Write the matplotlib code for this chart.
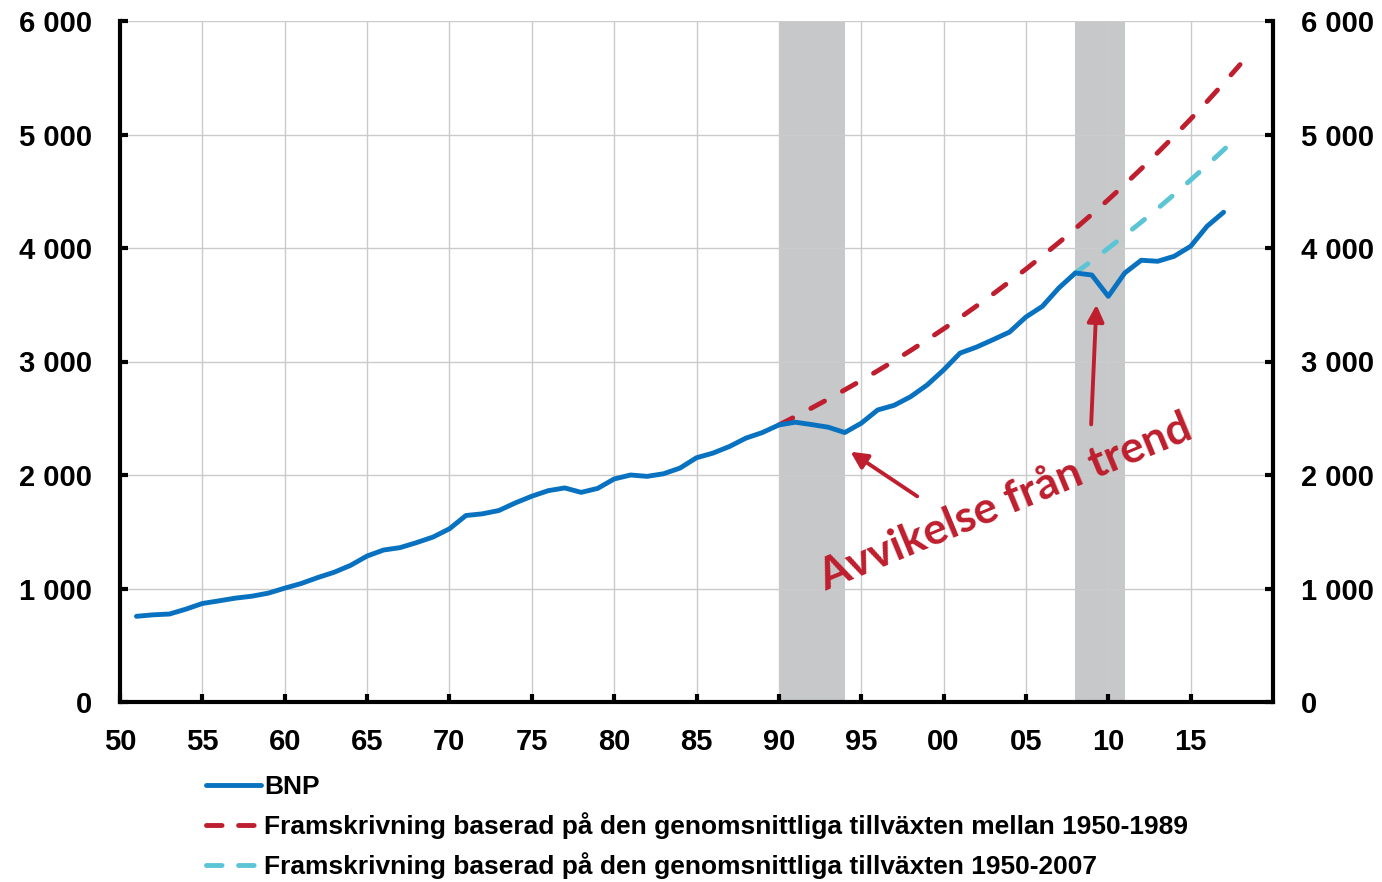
import matplotlib
matplotlib.use('Agg')
import matplotlib.pyplot as plt
from matplotlib.lines import Line2D

# ---- data ----
years_bnp = list(range(1951, 2018))
bnp = [755, 768, 775, 818, 868, 891, 915, 932, 959, 1003,
       1044, 1096, 1143, 1204, 1286, 1339, 1360, 1404, 1453, 1526,
       1643, 1658, 1687, 1754, 1813, 1862, 1886, 1847, 1882, 1965,
       2000, 1988, 2011, 2061, 2152, 2193, 2251, 2325, 2374, 2441,
       2465, 2444, 2421, 2374, 2456, 2573, 2614, 2690, 2793, 2925,
       3074, 3127, 3192, 3259, 3392, 3486, 3648, 3780, 3762, 3574,
       3780, 3892, 3883, 3927, 4015, 4192, 4315]

years_trend_8919 = list(range(1990, 2019))
trend_8919 = [2441, 2515, 2591, 2669, 2750, 2833, 2918, 3006, 3097, 3191,
              3287, 3386, 3489, 3594, 3703, 3814, 3930, 4048, 4171, 4297,
              4426, 4560, 4698, 4840, 4986, 5136, 5291, 5451, 5616]

years_trend_0007 = list(range(2008, 2019))
trend_0007 = [3780, 3887, 3998, 4112, 4228, 4348, 4472, 4599, 4730, 4864, 5002]

crisis_periods = [(1990, 1994), (2008, 2011)]

x_ticks = list(range(1950, 2020, 5))
x_labels = ['50', '55', '60', '65', '70', '75', '80', '85', '90', '95',
            '00', '05', '10', '15']
y_ticks = [0, 1000, 2000, 3000, 4000, 5000, 6000]
y_labels = ['0', '1 000', '2 000', '3 000', '4 000', '5 000', '6 000']

legend_labels = ['BNP',
                 'Framskrivning baserad på den genomsnittliga tillväxten mellan 1950-1989',
                 'Framskrivning baserad på den genomsnittliga tillväxten 1950-2007']
annotation_text = 'Avvikelse från trend'

# ---- style ----
BLUE = '#0872c0'
RED = '#be1e2d'
CYAN = '#5bc5d5'
BAND = '#c7c8ca'
GRID = '#cbcbcb'
FONT = 'Liberation Sans'

fig = plt.figure(figsize=(13.82, 8.82), dpi=100)
ax = fig.add_axes([120 / 1382, 1 - 702 / 882, (1273 - 120) / 1382, (702 - 21) / 882])

for a, b in crisis_periods:
    ax.axvspan(a, b, color=BAND, lw=0, zorder=0.5)

ax.set_xlim(1950, 2020)
ax.set_ylim(0, 6000)
ax.set_xticks(x_ticks)
ax.set_xticklabels(x_labels)
ax.set_yticks(y_ticks)
ax.set_yticklabels(y_labels)
ax.grid(True, color=GRID, lw=1.0, zorder=1)
ax.set_axisbelow(True)

lw = 3.5
dash = (3.2, 4.2)
ax.plot(years_trend_8919, trend_8919, color=RED, lw=lw, linestyle=(0, dash),
        dash_capstyle='round', zorder=3)
ax.plot(years_trend_0007, trend_0007, color=CYAN, lw=lw, linestyle=(0, dash),
        dash_capstyle='round', zorder=3)
ax.plot(years_bnp, bnp, color=BLUE, lw=lw, solid_capstyle='round',
        solid_joinstyle='round', zorder=4)

for s in ['left', 'right', 'bottom']:
    ax.spines[s].set_linewidth(3.0)
    ax.spines[s].set_color('black')
ax.spines['top'].set_visible(False)

ax.tick_params(axis='both', direction='in', length=6, width=3, color='black',
               labelsize=21, pad=20)
ax.tick_params(axis='y', right=True, labelright=True)
ax.tick_params(axis='x', pad=19)
for lab in ax.get_xticklabels() + ax.get_yticklabels():
    lab.set_fontfamily(FONT)
    lab.set_fontweight('bold')
for t in ax.yaxis.get_major_ticks():
    t.label2.set_fontfamily(FONT)
    t.label2.set_fontweight('bold')

# annotation text and arrows
ax.text(1992.8, 975, annotation_text, rotation=22.5, rotation_mode='anchor',
        ha='left', va='baseline', color=RED, fontsize=32, fontweight='bold',
        family='Lato', zorder=6)
arrow_kw = dict(arrowstyle='-|>,head_length=1.0,head_width=0.5', color=RED,
                lw=2.8, shrinkA=0, shrinkB=0)
ax.annotate('', xy=(1994.35, 2205), xytext=(1998.4, 1812), arrowprops=arrow_kw, zorder=6)
ax.annotate('', xy=(2009.28, 3500), xytext=(2008.96, 2446), arrowprops=arrow_kw, zorder=6)

# legend
handles = [Line2D([], [], color=BLUE, lw=lw, solid_capstyle='round'),
           Line2D([], [], color=RED, lw=lw, linestyle=(0, (3.2, 3.4)), dash_capstyle='round'),
           Line2D([], [], color=CYAN, lw=lw, linestyle=(0, (3.2, 3.4)), dash_capstyle='round')]
leg = fig.legend(handles, legend_labels, loc='upper left',
                 bbox_to_anchor=(206 / 1382, 1 - 775 / 882), frameon=False,
                 prop={'family': FONT, 'weight': 'bold', 'size': 19},
                 handlelength=2.1, handletextpad=0.1, labelspacing=0.5,
                 borderpad=0, borderaxespad=0)

fig.savefig('out.png', dpi=100)
